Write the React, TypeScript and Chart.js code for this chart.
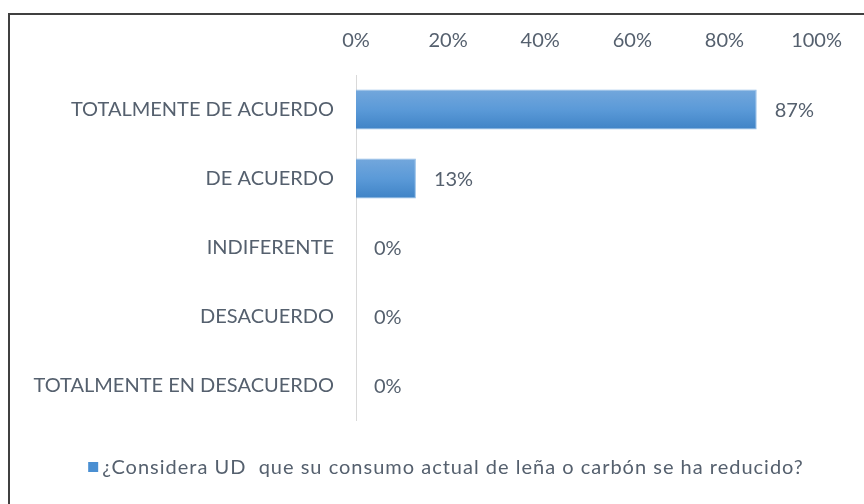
import React, { useEffect, useRef } from "react";
import { Chart, registerables } from "chart.js";

Chart.register(...registerables);

const categories = [
  "TOTALMENTE DE ACUERDO",
  "DE ACUERDO",
  "INDIFERENTE",
  "DESACUERDO",
  "TOTALMENTE EN DESACUERDO",
];
const values = [87, 13, 0, 0, 0];
const seriesName = "¿Considera UD  que su consumo actual de leña o carbón se ha reducido?";
const tickValues = [0, 20, 40, 60, 80, 100];

const FONT = "Lato, 'Open Sans', sans-serif";
const TEXT = "#55606e";
const SIZE = 20;

const gradientPlugin = {
  id: "barGradient",
  beforeDatasetsDraw(chart: any) {
    const ctx = chart.ctx;
    const meta = chart.getDatasetMeta(0);
    meta.data.forEach((bar: any) => {
      const h = bar.height || 40;
      const top = bar.y - h / 2;
      const g = ctx.createLinearGradient(0, top, 0, top + h);
      g.addColorStop(0, "#73a7dc");
      g.addColorStop(0.5, "#5b9ad8");
      g.addColorStop(1, "#3f83c6");
      bar.options = { ...bar.options, backgroundColor: g };
    });
  },
};

const labelPlugin = {
  id: "valueLabels",
  afterDatasetsDraw(chart: any) {
    const ctx = chart.ctx;
    const meta = chart.getDatasetMeta(0);
    ctx.save();
    ctx.font = `${SIZE}px ${FONT}`;
    ctx.fillStyle = TEXT;
    ctx.textAlign = "left";
    ctx.textBaseline = "middle";
    meta.data.forEach((bar: any, i: number) => {
      ctx.fillText(`${values[i]}%`, bar.x + 18, bar.y + 1);
    });
    ctx.restore();
  },
};

const legendPlugin = {
  id: "customLegend",
  afterDraw(chart: any) {
    const ctx = chart.ctx;
    const label = chart.data.datasets[0].label;
    ctx.save();
    ctx.font = `${SIZE}px ${FONT}`;
    (ctx as any).letterSpacing = "1px";
    const tw = ctx.measureText(label).width;
    const box = 10;
    const gap = 4;
    const total = box + gap + tw;
    const x0 = (chart.width + 28) / 2 - total / 2;
    const cy = 467;
    ctx.fillStyle = "#4a8fd2";
    ctx.fillRect(x0, cy - box / 2, box, box);
    ctx.fillStyle = TEXT;
    ctx.textAlign = "left";
    ctx.textBaseline = "middle";
    ctx.fillText(label, x0 + box + gap, cy + 1);
    ctx.restore();
  },
};

export default function App() {
  const ref = useRef<HTMLCanvasElement>(null);
  useEffect(() => {
    if (!ref.current) return;
    const chart = new Chart(ref.current, {
      type: "bar",
      data: {
        labels: categories,
        datasets: [
          {
            label: seriesName,
            data: values,
            backgroundColor: "#5b9bd5",
            borderColor: "#8fbbe6",
            borderWidth: 1,
            barPercentage: 0.58,
            categoryPercentage: 1,
          },
        ],
      },
      options: {
        indexAxis: "y",
        animation: false,
        responsive: false,
        maintainAspectRatio: false,
        layout: { padding: { left: 0, right: 46, top: 0, bottom: 84 } },
        scales: {
          x: {
            position: "top",
            min: 0,
            max: 100,
            afterBuildTicks(scale: any) {
              scale.ticks = tickValues.map((v) => ({ value: v }));
            },
            afterFit(scale: any) {
              scale.height = 75;
            },
            grid: { display: false, drawTicks: false },
            border: { display: false },
            ticks: {
              padding: 22,
              color: TEXT,
              font: { family: FONT, size: SIZE },
              callback: (v: any) => `${v}%`,
            },
          },
          y: {
            afterFit(scale: any) {
              scale.width = 356;
            },
            grid: { display: false, drawTicks: false },
            border: { display: true, color: "#d9d9d9", width: 1 },
            ticks: {
              padding: 22,
              color: TEXT,
              font: { family: FONT, size: SIZE },
            },
          },
        },
        plugins: {
          legend: { display: false },
          tooltip: { enabled: false },
        },
      },
      plugins: [gradientPlugin, labelPlugin, legendPlugin],
    });
    return () => chart.destroy();
  }, []);

  return (
    <div style={{ position: "fixed", left: 0, top: 0, width: 864, height: 504, background: "#fff", overflow: "hidden" }}>
      <canvas ref={ref} width={864} height={504} style={{ position: "absolute", left: 0, top: 0 }} />
      <div
        style={{
          position: "absolute",
          left: 8,
          top: 13,
          width: 1000,
          height: 1000,
          borderTop: "2px solid #404040",
          borderLeft: "2px solid #404040",
          pointerEvents: "none",
        }}
      />
    </div>
  );
}
